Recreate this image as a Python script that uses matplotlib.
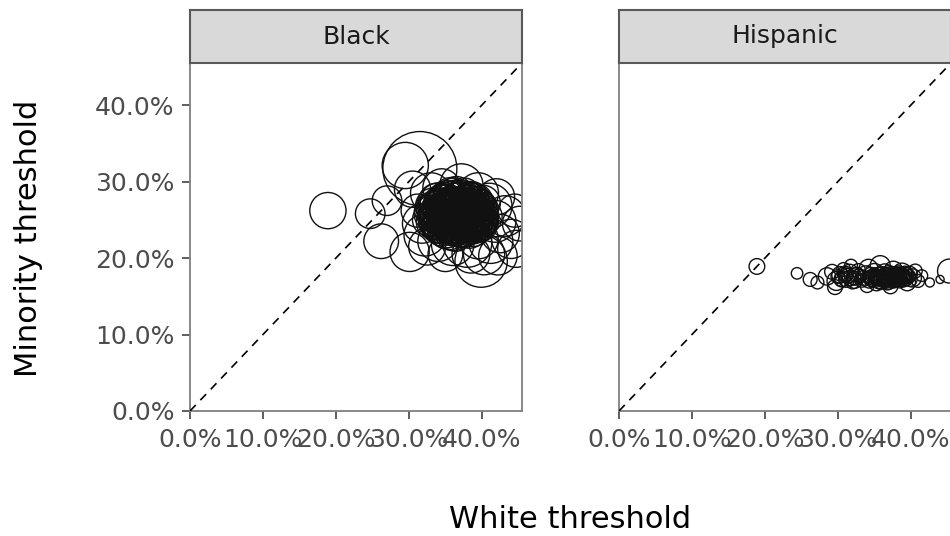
"""Minority vs white search thresholds, faceted by minority group."""

import matplotlib

matplotlib.use("Agg")
import matplotlib.pyplot as plt
import numpy as np
from matplotlib.ticker import FuncFormatter

plt.rcParams["font.family"] = ["DejaVu Sans"]

# ── Data: one row per department (white threshold, minority threshold, stops in thousands) ──
black_white = [
    # dense core
    0.352, 0.361, 0.370, 0.345, 0.378, 0.366, 0.357, 0.384, 0.340, 0.373,
    0.349, 0.391, 0.362, 0.335, 0.380, 0.355, 0.396, 0.343, 0.369, 0.358,
    0.387, 0.331, 0.375, 0.364, 0.348, 0.399, 0.338, 0.382, 0.353, 0.371,
    0.360, 0.392, 0.345, 0.377, 0.366, 0.350, 0.386, 0.327, 0.404, 0.357,
    0.373, 0.341, 0.363, 0.389, 0.354, 0.379, 0.368, 0.336, 0.395, 0.359,
    0.347, 0.383, 0.372, 0.362, 0.334, 0.401, 0.376, 0.351, 0.365, 0.388,
    0.340, 0.351, 0.362, 0.374, 0.386, 0.397, 0.334, 0.346, 0.357, 0.368,
    0.379, 0.390, 0.401, 0.338, 0.349, 0.360, 0.371, 0.382, 0.393, 0.332,
    0.343, 0.355, 0.366, 0.377, 0.388, 0.399, 0.337, 0.348, 0.359, 0.370,
    0.381, 0.392, 0.342, 0.353, 0.364, 0.375, 0.386, 0.397, 0.346, 0.357,
    0.368, 0.379, 0.390, 0.352, 0.363, 0.374, 0.385, 0.350, 0.361, 0.372,
    0.383, 0.343, 0.354, 0.365, 0.376, 0.387, 0.398, 0.340, 0.352, 0.363,
    0.374, 0.385, 0.396, 0.336, 0.347, 0.358, 0.369, 0.380, 0.391, 0.341,
    0.352, 0.363, 0.374, 0.385, 0.396, 0.334, 0.345, 0.356, 0.367, 0.378,
    0.389, 0.350, 0.361, 0.372, 0.383, 0.394, 0.340, 0.358, 0.369, 0.380,
    # ring around the core
    0.318, 0.322, 0.312, 0.330, 0.345, 0.372, 0.395, 0.410, 0.418, 0.425,
    0.412, 0.395, 0.380, 0.360, 0.340, 0.325, 0.432, 0.440, 0.447, 0.452,
    0.445, 0.403, 0.385, 0.350, 0.420,
    # outliers
    0.189, 0.247, 0.262, 0.315, 0.295, 0.270, 0.305, 0.399, 0.301, 0.422,
]
black_minority = [
    0.262, 0.255, 0.249, 0.251, 0.262, 0.268, 0.243, 0.251, 0.266, 0.240,
    0.275, 0.259, 0.278, 0.256, 0.272, 0.236, 0.248, 0.244, 0.258, 0.266,
    0.241, 0.263, 0.281, 0.232, 0.258, 0.264, 0.274, 0.256, 0.249, 0.265,
    0.260, 0.270, 0.238, 0.246, 0.244, 0.270, 0.264, 0.250, 0.254, 0.283,
    0.253, 0.259, 0.250, 0.249, 0.257, 0.268, 0.274, 0.247, 0.242, 0.240,
    0.265, 0.277, 0.236, 0.263, 0.268, 0.272, 0.258, 0.245, 0.285, 0.256,
    0.241, 0.238, 0.242, 0.239, 0.241, 0.243, 0.247, 0.245, 0.248, 0.246,
    0.244, 0.247, 0.249, 0.252, 0.254, 0.251, 0.253, 0.250, 0.252, 0.258,
    0.256, 0.257, 0.259, 0.255, 0.258, 0.256, 0.262, 0.261, 0.263, 0.260,
    0.264, 0.261, 0.267, 0.268, 0.266, 0.269, 0.265, 0.268, 0.272, 0.271,
    0.273, 0.270, 0.274, 0.278, 0.277, 0.279, 0.276, 0.235, 0.234, 0.237,
    0.236, 0.243, 0.244, 0.242, 0.245, 0.241, 0.244, 0.249, 0.248, 0.250,
    0.247, 0.250, 0.248, 0.255, 0.254, 0.256, 0.253, 0.256, 0.254, 0.260,
    0.261, 0.259, 0.262, 0.258, 0.261, 0.265, 0.266, 0.264, 0.267, 0.263,
    0.266, 0.270, 0.271, 0.269, 0.272, 0.270, 0.275, 0.274, 0.276, 0.273,
    0.245, 0.230, 0.262, 0.285, 0.292, 0.295, 0.285, 0.268, 0.248, 0.232,
    0.222, 0.225, 0.220, 0.218, 0.222, 0.215, 0.255, 0.225, 0.212, 0.245,
    0.262, 0.205, 0.205, 0.205, 0.280,
    0.262, 0.258, 0.222, 0.317, 0.321, 0.275, 0.290, 0.196, 0.208, 0.203,
]
black_stops = [
    30, 34, 26, 22, 33, 27, 24, 31, 26, 29,
    23, 25, 30, 20, 26, 27, 24, 25, 36, 32,
    22, 21, 24, 23, 33, 21, 24, 35, 31, 29,
    38, 23, 21, 28, 26, 29, 25, 19, 22, 21,
    33, 27, 30, 26, 36, 24, 25, 20, 20, 24,
    30, 21, 22, 33, 24, 23, 31, 26, 20, 29,
    20, 26, 23, 27, 21, 18, 22, 29, 25, 30,
    24, 26, 19, 25, 21, 32, 23, 29, 22, 24,
    30, 26, 22, 34, 25, 20, 27, 24, 29, 31,
    22, 27, 21, 33, 25, 28, 23, 20, 25, 22,
    30, 20, 24, 23, 26, 21, 25, 21, 25, 20,
    23, 23, 20, 27, 25, 29, 21, 27, 24, 21,
    30, 25, 23, 20, 26, 30, 25, 21, 30, 25,
    22, 34, 24, 27, 25, 21, 26, 24, 28, 31,
    22, 27, 21, 25, 29, 21, 23, 28, 24, 22,
    28, 32, 20, 30, 26, 34, 30, 38, 32, 27,
    36, 29, 44, 33, 30, 25, 30, 28, 25, 22,
    20, 31, 26, 22, 24,
    24, 16, 22, 100, 39, 16, 24, 50, 28, 27,
]

hispanic_white = [
    0.189, 0.244, 0.262, 0.272, 0.285, 0.292, 0.298, 0.303, 0.308, 0.312,
    0.316, 0.320, 0.324, 0.328, 0.333, 0.338, 0.342, 0.346, 0.350, 0.353,
    0.356, 0.358, 0.361, 0.364, 0.367, 0.370, 0.373, 0.376, 0.379, 0.382,
    0.385, 0.388, 0.391, 0.395, 0.398, 0.402, 0.406, 0.410, 0.415, 0.426,
    0.440, 0.453, 0.296, 0.340, 0.372, 0.318, 0.365, 0.380, 0.392, 0.358,
    0.352, 0.360, 0.368, 0.375, 0.383, 0.390, 0.397, 0.363, 0.377, 0.387,
    0.300, 0.306, 0.314, 0.322, 0.310, 0.326, 0.345, 0.355, 0.370, 0.394,
    0.348, 0.354, 0.359, 0.366, 0.371, 0.378, 0.384, 0.389, 0.393, 0.399,
    0.350, 0.357, 0.362, 0.369, 0.374, 0.381, 0.386, 0.392, 0.347, 0.364,
    0.305, 0.311, 0.317, 0.323, 0.329, 0.335, 0.343, 0.376, 0.383, 0.368,
]
hispanic_minority = [
    0.189, 0.180, 0.172, 0.168, 0.176, 0.182, 0.170, 0.178, 0.185, 0.172,
    0.180, 0.168, 0.176, 0.183, 0.171, 0.179, 0.186, 0.173, 0.180, 0.168,
    0.176, 0.190, 0.172, 0.181, 0.175, 0.169, 0.178, 0.184, 0.172, 0.177,
    0.170, 0.181, 0.175, 0.168, 0.179, 0.174, 0.183, 0.170, 0.177, 0.168,
    0.172, 0.183, 0.162, 0.164, 0.163, 0.190, 0.177, 0.174, 0.178, 0.171,
    0.175, 0.178, 0.173, 0.176, 0.179, 0.172, 0.176, 0.174, 0.171, 0.177,
    0.176, 0.173, 0.177, 0.174, 0.179, 0.178, 0.177, 0.174, 0.180, 0.173,
    0.172, 0.176, 0.170, 0.174, 0.177, 0.171, 0.175, 0.173, 0.178, 0.172,
    0.179, 0.173, 0.176, 0.172, 0.175, 0.178, 0.172, 0.176, 0.175, 0.173,
    0.172, 0.178, 0.174, 0.170, 0.177, 0.174, 0.171, 0.170, 0.175, 0.168,
]
hispanic_stops = [
    4.5, 2.4, 3.5, 3.0, 5.5, 4.0, 6.5, 5.0, 3.5, 4.5,
    6.0, 3.0, 5.5, 4.0, 3.5, 5.0, 6.5, 4.5, 7.0, 5.0,
    6.0, 7.3, 4.5, 5.5, 6.5, 4.0, 5.0, 6.0, 4.5, 5.5,
    3.5, 6.5, 4.0, 5.0, 4.5, 6.0, 3.5, 3.0, 2.5, 1.5,
    1.2, 10.5, 4.0, 3.5, 4.0, 3.0, 5.0, 4.5, 5.5, 6.0,
    4.0, 5.0, 3.5, 4.5, 5.0, 4.0, 3.5, 4.5, 4.0, 5.0,
    3.5, 4.5, 4.0, 3.5, 4.5, 4.0, 5.0, 4.0, 4.5, 3.5,
    4.0, 3.5, 4.5, 3.0, 4.0, 3.5, 4.5, 3.0, 4.0, 3.5,
    3.0, 4.0, 3.5, 4.5, 3.0, 4.0, 3.5, 3.0, 4.5, 3.5,
    4.0, 3.5, 4.5, 4.0, 3.5, 4.0, 4.5, 3.5, 3.0, 4.0,
]

facets = ["Black", "Hispanic"]
LIMIT = 0.455
TICKS = [0.0, 0.1, 0.2, 0.3, 0.4]

FIG_W, FIG_H = 950, 536
PANEL_TOP, PANEL_BOTTOM, PANEL_W = 63, 411, 332
STRIP_TOP = 10
PANEL_LEFTS = [190, 619]


def _area(stops):
    # area proportional to stop count
    return np.asarray(stops) * 28.4


def _frac(px_box):
    left, top, width, height = px_box
    return [left / FIG_W, 1 - (top + height) / FIG_H, width / FIG_W, height / FIG_H]


def main() -> None:
    fig = plt.figure(figsize=(FIG_W / 100, FIG_H / 100), dpi=100)
    pct = FuncFormatter(lambda v, _: f"{v * 100:.1f}%")

    series = [
        (black_white, black_minority, black_stops),
        (hispanic_white, hispanic_minority, hispanic_stops),
    ]
    for i, (name, (wx, my, stops)) in enumerate(zip(facets, series)):
        left = PANEL_LEFTS[i]
        ax = fig.add_axes(_frac((left, PANEL_TOP, PANEL_W, PANEL_BOTTOM - PANEL_TOP)))
        ax.plot([0, 1], [0, 1], color="black", lw=1.2, ls=(0, (5, 4)), zorder=3)
        ax.scatter(wx, my, s=_area(stops), facecolors="none", edgecolors="#111111",
                   linewidths=1.0, zorder=2)
        ax.set_xlim(0, LIMIT)
        ax.set_ylim(0, LIMIT)
        ax.set_xticks(TICKS)
        ax.set_yticks(TICKS)
        ax.xaxis.set_major_formatter(pct)
        ax.yaxis.set_major_formatter(pct)
        ax.tick_params(length=6, width=1.1, color="#333333", labelcolor="#4D4D4D",
                       labelsize=18)
        ax.tick_params(axis="x", pad=6)
        ax.tick_params(axis="y", pad=5)
        if i > 0:
            ax.tick_params(axis="y", left=False, labelleft=False)
        for sp in ax.spines.values():
            sp.set_color("#7F7F7F")
            sp.set_linewidth(1.3)

        strip = fig.add_axes(_frac((left, STRIP_TOP, PANEL_W, PANEL_TOP - STRIP_TOP)))
        strip.set_facecolor("#D9D9D9")
        strip.set_xticks([])
        strip.set_yticks([])
        for sp in strip.spines.values():
            sp.set_color("#595959")
            sp.set_linewidth(1.5)
        strip.text(0.5, 0.5, name, ha="center", va="center", fontsize=18,
                   color="#1A1A1A", transform=strip.transAxes)

    fig.text(570 / FIG_W, 1 - 519 / FIG_H, "White threshold", ha="center",
             va="center", fontsize=22, color="black")
    fig.text(29 / FIG_W, 1 - 238 / FIG_H, "Minority threshold", ha="center",
             va="center", rotation=90, fontsize=22, color="black")

    fig.savefig("out.png", dpi=100)
    plt.close(fig)


if __name__ == "__main__":
    main()
